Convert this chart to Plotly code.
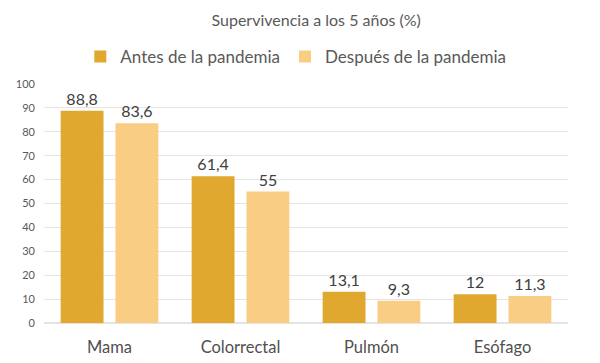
import plotly.graph_objects as go

categories = ["Mama", "Colorrectal", "Pulmón", "Esófago"]
antes = [88.8, 61.4, 13.1, 12]
despues = [83.6, 55, 9.3, 11.3]
series_names = ["Antes de la pandemia", "Después de la pandemia"]
y_ticks = [0, 10, 20, 30, 40, 50, 60, 70, 80, 90, 100]

def fmt(v):
    s = ("%g" % v)
    return s.replace(".", ",")

colors = ["#E0A82E", "#F9CE84"]
font_family = "Lato, 'Open Sans', sans-serif"

fig = go.Figure()
for name, vals, col in zip(series_names, [antes, despues], colors):
    fig.add_trace(go.Bar(
        x=categories, y=vals, name=name,
        marker=dict(color=col, line=dict(color=col, width=0)),
        text=[fmt(v) for v in vals], textposition="outside",
        textfont=dict(size=16, color="#404040", family=font_family),
        cliponaxis=False,
    ))

fig.update_layout(
    width=600, height=363,
    margin=dict(l=44, r=32, t=84, b=40, autoexpand=False),
    paper_bgcolor="white", plot_bgcolor="white",
    barmode="group", bargap=0.163, bargroupgap=0.218,
    font=dict(family=font_family, color="#595959"),
    title=dict(text="Supervivencia a los 5 años (%)", x=0.527, xanchor="center",
               y=1 - 20 / 363, yanchor="middle", yref="container",
               font=dict(size=16, color="#595959", family=font_family)),
    legend=dict(orientation="h", x=0.493, xanchor="center", xref="container",
                y=1 - 57 / 363, yanchor="middle", yref="container",
                font=dict(size=17, color="#595959", family=font_family),
                itemwidth=30, traceorder="normal"),
    showlegend=True,
)
fig.update_yaxes(range=[0, 100], tickvals=y_ticks, showgrid=True, gridcolor="#E4E4E4",
                 gridwidth=1, zeroline=True, zerolinecolor="#E4E4E4", showline=False,
                 tickfont=dict(size=11, color="#595959", family=font_family), ticks="",
                 ticklabelstandoff=8)
fig.update_xaxes(showline=False, ticks="", tickfont=dict(size=16.5, color="#505050", family=font_family),
                 ticklabelstandoff=12)

fig.write_html("out.html", post_script="document.body.style.margin='0';",
               config={"displayModeBar": False})
